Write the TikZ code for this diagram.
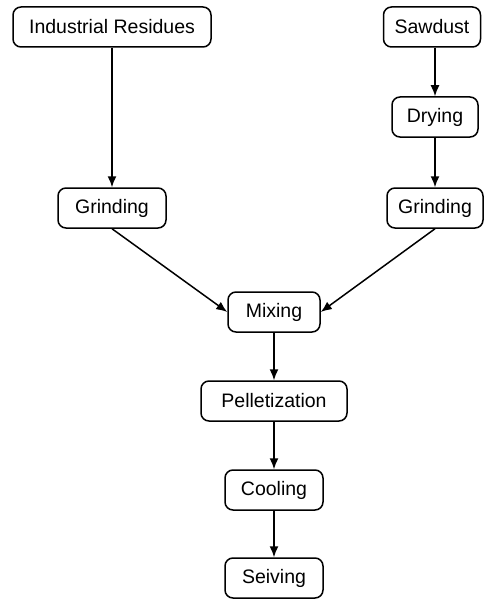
\documentclass[tikz,border=0pt]{standalone}
\usepackage{fontspec}
\setmainfont{Liberation Sans}
\usetikzlibrary{arrows.meta}

\begin{document}
\begin{tikzpicture}[x=1pt,y=-1pt,line width=1.5pt,
    stage/.style={draw,rounded corners=8pt,minimum height=40pt,inner xsep=0pt,font=\fontsize{19.5}{22}\selectfont},
    flow/.style={-{Latex[length=11pt,width=9pt]}}]

          \useasboundingbox (0,0) rectangle (486,599);

          \node[stage,minimum width=198pt] (residues) at (112,27) {Industrial Residues};
          \node[stage,minimum width=97pt] (sawdust) at (432,27) {Sawdust};
          \node[stage,minimum width=86pt] (drying) at (435,117) {Drying};
          \node[stage,minimum width=108pt] (grindL) at (112,208) {Grinding};
          \node[stage,minimum width=96pt] (grindR) at (435,208) {Grinding};
          \node[stage,minimum width=92pt] (mixing) at (274,312) {Mixing};
          \node[stage,minimum width=146pt] (pellet) at (274,401) {Pelletization};
          \node[stage,minimum width=98pt] (cooling) at (274,490) {Cooling};
          \node[stage,minimum width=98pt] (seiving) at (274,578) {Seiving};

        \draw[flow] (drying |- sawdust.south) -- (drying);
        \draw[flow] (residues) -- (grindL);
        \draw[flow] (drying) -- (grindR);
        \draw[flow] (grindL.south) -- (mixing.west);
        \draw[flow] (grindR.south) -- (mixing.east);
        \draw[flow] (mixing) -- (pellet);
        \draw[flow] (pellet) -- (cooling);
        \draw[flow] (cooling) -- (seiving);
        \end{tikzpicture}
\end{document}
